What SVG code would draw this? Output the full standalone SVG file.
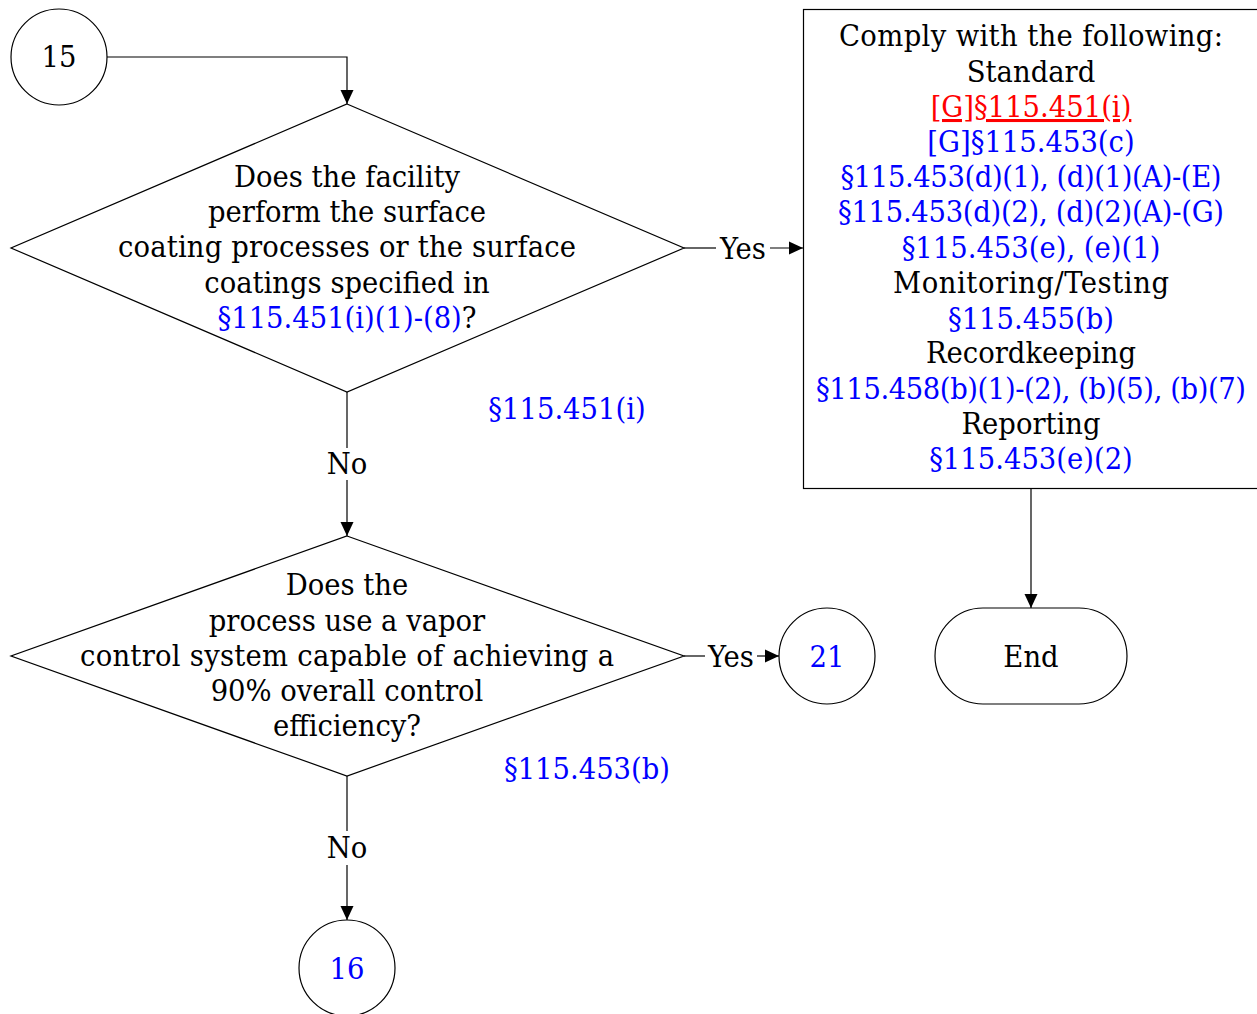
<svg xmlns="http://www.w3.org/2000/svg" width="1257" height="1014" viewBox="0 0 1257 1014">
<defs>
<marker id="arrb" viewBox="0 0 14 14" refX="14" refY="7" markerWidth="14" markerHeight="14" markerUnits="userSpaceOnUse" orient="auto">
<path d="M0,0.5 L14,7 L0,13.5 Z" fill="#000"/>
</marker>
</defs>
<style>
text{font-family:"DejaVu Serif Condensed","DejaVu Serif",serif;font-size:30.5px;fill:#000;text-anchor:middle}
.b{fill:#0000ff}
.r{fill:#ff0000;text-decoration:underline}
.s{fill:#fff;stroke:#000;stroke-width:1.2}
.c{fill:none;stroke:#000;stroke-width:1.2}
</style>
<rect width="1257" height="1014" fill="#fff"/>
<g id="connectors">
<path class="c" d="M107,57 H347 V104" marker-end="url(#arrb)"/>
<path class="c" d="M684,248 H716"/>
<path class="c" d="M770,248 H803" marker-end="url(#arrb)"/>
<path class="c" d="M347,392 V448"/>
<path class="c" d="M347,480 V536" marker-end="url(#arrb)"/>
<path class="c" d="M684,656 H705"/>
<path class="c" d="M757,656 H779" marker-end="url(#arrb)"/>
<path class="c" d="M347,776 V831"/>
<path class="c" d="M347,865 V920" marker-end="url(#arrb)"/>
<path class="c" d="M1031,488 V608" marker-end="url(#arrb)"/>
<text x="743" y="259">Yes</text>
<text x="347" y="474">No</text>
<text x="731" y="667">Yes</text>
<text x="347" y="858">No</text>
</g>
<g id="n15">
<circle class="s" cx="59" cy="57" r="48"/>
<text x="59" y="67">15</text>
</g>
<g id="d1">
<polygon class="s" points="347,104 684,248 347,392 11,248"/>
<text x="347" y="187">Does the facility</text>
<text x="347" y="222">perform the surface</text>
<text x="347" y="257" textLength="458">coating processes or the surface</text>
<text x="347" y="293">coatings specified in</text>
<text x="347" y="328"><tspan class="b">§115.451(i)(1)-(8)</tspan>?</text>
</g>
<g id="ref1">
<text class="b" x="567" y="419">§115.451(i)</text>
</g>
<g id="box">
<rect class="s" x="803.5" y="9.5" width="460" height="479"/>
<text x="1031" y="46" textLength="384">Comply with the following:</text>
<text x="1031" y="82">Standard</text>
<text class="r" x="1031" y="117">[G]§115.451(i)</text>
<text class="b" x="1031" y="152">[G]§115.453(c)</text>
<text class="b" x="1031" y="187" textLength="381">§115.453(d)(1), (d)(1)(A)-(E)</text>
<text class="b" x="1031" y="222" textLength="386">§115.453(d)(2), (d)(2)(A)-(G)</text>
<text class="b" x="1031" y="258">§115.453(e), (e)(1)</text>
<text x="1031" y="293" textLength="276">Monitoring/Testing</text>
<text class="b" x="1031" y="329">§115.455(b)</text>
<text x="1031" y="363">Recordkeeping</text>
<text class="b" x="1031" y="399" textLength="430">§115.458(b)(1)-(2), (b)(5), (b)(7)</text>
<text x="1031" y="434">Reporting</text>
<text class="b" x="1031" y="469">§115.453(e)(2)</text>
</g>
<g id="end">
<rect class="s" x="935" y="608" width="192" height="96" rx="48" ry="48"/>
<text x="1031" y="667">End</text>
</g>
<g id="d2">
<polygon class="s" points="347,536 684,656 347,776 11,656"/>
<text x="347" y="595">Does the</text>
<text x="347" y="631">process use a vapor</text>
<text x="347" y="666" textLength="534">control system capable of achieving a</text>
<text x="347" y="701">90% overall control</text>
<text x="347" y="736">efficiency?</text>
</g>
<g id="ref2">
<text class="b" x="587" y="779">§115.453(b)</text>
</g>
<g id="n21">
<circle class="s" cx="827" cy="656" r="48"/>
<text class="b" x="827" y="667">21</text>
</g>
<g id="n16">
<circle class="s" cx="347" cy="968" r="48"/>
<text class="b" x="347" y="979">16</text>
</g>
</svg>
